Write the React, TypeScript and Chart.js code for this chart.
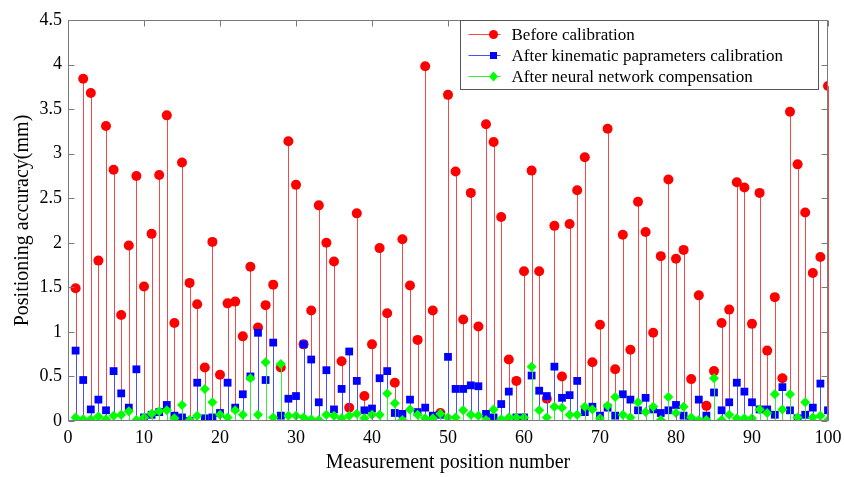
import React, { useEffect, useRef } from 'react';
import { Chart, registerables } from 'chart.js';

Chart.register(...registerables);

const seriesNames = [
  'Before calibration',
  'After kinematic paprameters calibration',
  'After neural network compensation',
];

const beforeCalibration = [
  1.49, 3.84, 3.68, 1.80, 3.31, 2.82, 1.19, 1.97, 2.75, 1.51,
  2.10, 2.76, 3.43, 1.10, 2.90, 1.55, 1.31, 0.60, 2.01, 0.52,
  1.32, 1.34, 0.95, 1.73, 1.05, 1.30, 1.53, 0.60, 3.14, 2.65,
  0.86, 1.24, 2.42, 2.00, 1.79, 0.67, 0.15, 2.33, 0.28, 0.86,
  1.94, 1.21, 0.43, 2.04, 1.52, 0.91, 3.98, 1.24, 0.09, 3.66,
  2.80, 1.14, 2.56, 1.06, 3.33, 3.13, 2.29, 0.69, 0.45, 1.68,
  2.81, 1.68, 0.25, 2.19, 0.50, 2.21, 2.59, 2.96, 0.66, 1.08,
  3.28, 0.58, 2.09, 0.80, 2.46, 2.12, 0.99, 1.85, 2.71, 1.82,
  1.92, 0.47, 1.41, 0.17, 0.56, 1.10, 1.25, 2.68, 2.62, 1.09,
  2.56, 0.79, 1.39, 0.48, 3.47, 2.88, 2.34, 1.66, 1.84, 3.76,
];

const afterKinematic = [
  0.79, 0.46, 0.13, 0.24, 0.12, 0.56, 0.31, 0.15, 0.58, 0.04,
  0.07, 0.10, 0.18, 0.06, 0.04, 0.00, 0.43, 0.03, 0.04, 0.09,
  0.43, 0.15, 0.30, 0.50, 0.99, 0.46, 0.88, 0.06, 0.25, 0.28,
  0.86, 0.69, 0.21, 0.57, 0.13, 0.36, 0.78, 0.45, 0.12, 0.14,
  0.48, 0.56, 0.09, 0.08, 0.24, 0.10, 0.15, 0.06, 0.07, 0.72,
  0.36, 0.36, 0.40, 0.39, 0.08, 0.04, 0.19, 0.33, 0.04, 0.04,
  0.51, 0.34, 0.28, 0.61, 0.26, 0.29, 0.45, 0.10, 0.16, 0.06,
  0.15, 0.06, 0.30, 0.24, 0.12, 0.26, 0.13, 0.09, 0.12, 0.18,
  0.06, 0.00, 0.24, 0.06, 0.32, 0.12, 0.21, 0.43, 0.33, 0.21,
  0.13, 0.13, 0.07, 0.38, 0.12, 0.03, 0.07, 0.15, 0.42, 0.12,
];

const afterNeural = [
  0.04, 0.02, 0.02, 0.05, 0.02, 0.06, 0.07, 0.11, 0.01, 0.04,
  0.08, 0.11, 0.12, 0.03, 0.18, 0.01, 0.06, 0.36, 0.21, 0.07,
  0.04, 0.12, 0.07, 0.48, 0.07, 0.66, 0.04, 0.64, 0.06, 0.06,
  0.04, 0.02, 0.01, 0.07, 0.06, 0.03, 0.06, 0.08, 0.03, 0.07,
  0.07, 0.31, 0.20, 0.01, 0.13, 0.07, 0.03, 0.03, 0.08, 0.04,
  0.04, 0.12, 0.07, 0.06, 0.01, 0.13, 0.02, 0.04, 0.04, 0.04,
  0.61, 0.12, 0.04, 0.16, 0.15, 0.07, 0.07, 0.16, 0.13, 0.03,
  0.17, 0.27, 0.07, 0.04, 0.21, 0.10, 0.16, 0.01, 0.27, 0.09,
  0.16, 0.04, 0.01, 0.01, 0.48, 0.01, 0.07, 0.03, 0.03, 0.03,
  0.13, 0.09, 0.30, 0.13, 0.30, 0.04, 0.21, 0.04, 0.06, 0.01,
];

const xTickValues = [0, 10, 20, 30, 40, 50, 60, 70, 80, 90, 100];
const yTickValues = [0, 0.5, 1, 1.5, 2, 2.5, 3, 3.5, 4, 4.5];

const FONT = '"Liberation Serif", "Times New Roman", serif';
const FRAME = '#7a7a7a';

const stemPlugin = {
  id: 'stems',
  beforeDatasetDraw(chart: any, args: any) {
    const ds = chart.data.datasets[args.index];
    const meta = args.meta;
    const y0 = chart.scales.y.getPixelForValue(0);
    const ctx = chart.ctx;
    ctx.save();
    ctx.strokeStyle = ds.stemColor;
    ctx.lineWidth = 1;
    meta.data.forEach((el: any) => {
      const x = Math.round(el.x) + 0.5;
      ctx.beginPath();
      ctx.moveTo(x, el.y);
      ctx.lineTo(x, y0);
      ctx.stroke();
    });
    ctx.restore();
  },
};

const framePlugin = {
  id: 'frame',
  afterDraw(chart: any) {
    const { ctx, chartArea: a, scales } = chart;
    ctx.save();
    ctx.strokeStyle = FRAME;
    ctx.lineWidth = 1;
    const L = Math.round(a.left) + 0.5;
    const R = Math.round(a.right) - 0.5;
    const T = Math.round(a.top) + 0.5;
    const B = Math.round(a.bottom) - 0.5;
    ctx.strokeRect(L, T, R - L, B - T);
    const tl = 6;
    ctx.beginPath();
    xTickValues.forEach((v) => {
      const x = Math.round(scales.x.getPixelForValue(v)) + 0.5;
      ctx.moveTo(x, B);
      ctx.lineTo(x, B - tl);
      ctx.moveTo(x, T);
      ctx.lineTo(x, T + tl);
    });
    yTickValues.forEach((v) => {
      const y = Math.round(scales.y.getPixelForValue(v)) + 0.5;
      ctx.moveTo(L, y);
      ctx.lineTo(L + tl, y);
      ctx.moveTo(R, y);
      ctx.lineTo(R - tl, y);
    });
    ctx.stroke();

    // legend
    const bw = 358;
    const bh = 69;
    const bx = Math.round(a.right - 10 - bw) + 0.5;
    const by = Math.round(a.top) + 0.5;
    ctx.fillStyle = '#ffffff';
    ctx.fillRect(bx, by, bw, bh);
    ctx.strokeStyle = '#555555';
    ctx.strokeRect(bx, by, bw, bh);
    const rows = [14, 35, 56];
    chart.data.datasets.forEach((ds: any, i: number) => {
      const y = by + rows[i];
      ctx.strokeStyle = ds.stemColor;
      ctx.lineWidth = 1;
      ctx.beginPath();
      ctx.moveTo(bx + 8, y);
      ctx.lineTo(bx + 40, y);
      ctx.stroke();
      const mx = bx + 33;
      ctx.fillStyle = ds.pointBackgroundColor;
      ctx.beginPath();
      if (ds.pointStyle === 'circle') {
        ctx.arc(mx, y, 4.5, 0, Math.PI * 2);
      } else if (ds.pointStyle === 'rect') {
        ctx.rect(mx - 3.5, y - 3.5, 7, 7);
      } else {
        ctx.moveTo(mx, y - 5);
        ctx.lineTo(mx + 4.5, y);
        ctx.lineTo(mx, y + 5);
        ctx.lineTo(mx - 4.5, y);
        ctx.closePath();
      }
      ctx.fill();
      ctx.fillStyle = '#000000';
      ctx.font = `17px ${FONT}`;
      ctx.textBaseline = 'middle';
      ctx.textAlign = 'left';
      ctx.fillText(ds.label, bx + 51, y + 1);
    });
    ctx.restore();
  },
};

function toPoints(values: number[]) {
  return values.map((v, i) => ({ x: i + 1, y: v }));
}

export default function App() {
  const canvasRef = useRef<HTMLCanvasElement | null>(null);

  useEffect(() => {
    document.body.style.margin = '0';
    const canvas = canvasRef.current;
    if (!canvas) return;
    const chart = new Chart(canvas, {
      type: 'scatter',
      data: {
        datasets: [
          {
            label: seriesNames[0],
            data: toPoints(beforeCalibration),
            pointStyle: 'circle',
            radius: 5,
            pointBackgroundColor: '#ff0000',
            pointBorderWidth: 0,
            borderColor: '#ff0000',
            backgroundColor: '#ff0000',
            stemColor: '#ee4a4a',
            order: 3,
          } as any,
          {
            label: seriesNames[1],
            data: toPoints(afterKinematic),
            pointStyle: 'rect',
            radius: 5.5,
            pointBackgroundColor: '#0000ff',
            pointBorderWidth: 0,
            borderColor: '#0000ff',
            backgroundColor: '#0000ff',
            stemColor: '#4d4dff',
            order: 2,
          } as any,
          {
            label: seriesNames[2],
            data: toPoints(afterNeural),
            pointStyle: 'rectRot',
            radius: 5,
            pointBackgroundColor: '#00ff00',
            pointBorderWidth: 0,
            borderColor: '#00ff00',
            backgroundColor: '#00ff00',
            stemColor: '#3ee83e',
            order: 1,
          } as any,
        ],
      },
      options: {
        animation: false,
        responsive: false,
        devicePixelRatio: 1,
        layout: { padding: { top: 20, right: 16, left: 0, bottom: 0 } },
        plugins: {
          legend: { display: false },
          tooltip: { enabled: false },
        },
        font: { family: FONT },
        scales: {
          x: {
            type: 'linear',
            min: 0,
            max: 100,
            afterFit: (s: any) => { s.height = 56; s.paddingLeft = 0; s.paddingRight = 0; },
            afterBuildTicks: (s: any) => { s.ticks = xTickValues.map((v) => ({ value: v })); },
            grid: { display: false, drawTicks: false },
            border: { display: false },
            ticks: {
              color: '#000',
              padding: 6,
              maxRotation: 0,
              font: { family: FONT, size: 18 },
              callback: (v: any) => String(v),
            },
            title: {
              display: true,
              text: 'Measurement position number',
              color: '#000',
              font: { family: FONT, size: 20 },
              padding: { top: 0, bottom: 2 },
            },
          },
          y: {
            type: 'linear',
            min: 0,
            max: 4.5,
            afterFit: (s: any) => { s.width = 68; s.paddingTop = 0; s.paddingBottom = 0; },
            afterBuildTicks: (s: any) => { s.ticks = yTickValues.map((v) => ({ value: v })); },
            grid: { display: false, drawTicks: false },
            border: { display: false },
            ticks: {
              color: '#000',
              padding: 6,
              font: { family: FONT, size: 18 },
              callback: (v: any) => String(v),
            },
            title: {
              display: true,
              text: 'Positioning accuracy(mm)',
              color: '#000',
              font: { family: FONT, size: 20 },
              padding: { top: 11, bottom: 0 },
            },
          },
        },
      } as any,
      plugins: [stemPlugin, framePlugin],
    });
    return () => chart.destroy();
  }, []);

  return (
    <div style={{ width: 844, height: 477, background: '#fff' }}>
      <canvas ref={canvasRef} width={844} height={477} style={{ display: 'block' }} />
    </div>
  );
}
